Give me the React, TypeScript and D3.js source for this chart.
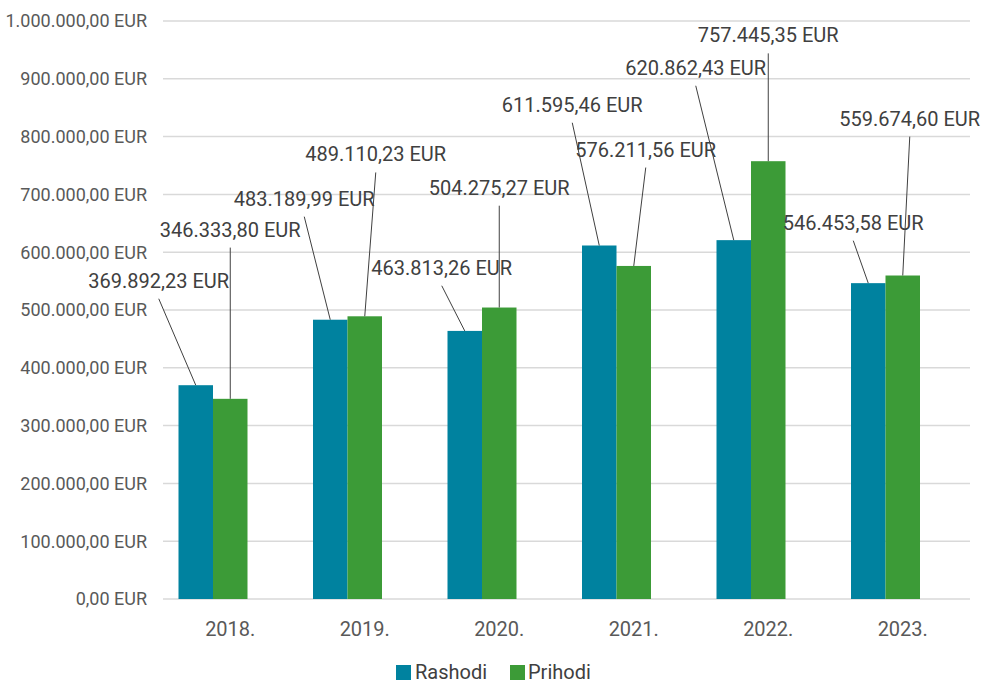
import React from "react";
import * as d3 from "d3";

const years = ["2018.", "2019.", "2020.", "2021.", "2022.", "2023."];
const seriesNames = ["Rashodi", "Prihodi"];
const rashodi = [369892.23, 483189.99, 463813.26, 611595.46, 620862.43, 546453.58];
const prihodi = [346333.8, 489110.23, 504275.27, 576211.56, 757445.35, 559674.6];
const yTicks = [0, 100000, 200000, 300000, 400000, 500000, 600000, 700000, 800000, 900000, 1000000];

// label placement (layout only): horizontal offset from bar centre (px) and level (data units)
const rashodiLabelDx = [-37, -26, -23, -27, -38, -15];
const rashodiLabelLevel = [538500, 680500, 561000, 843000, 907000, 639000];
const prihodiLabelDx = [0, 11, 0, 12, 0, 7];
const prihodiLabelLevel = [627000, 757000, 699500, 765500, 963000, 819000];

const colors = ["#00829F", "#3C9B37"];
const W = 981;
const H = 684;
const FONT = "Roboto, 'Noto Sans', sans-serif";

const locale = d3.formatLocale({ decimal: ",", thousands: ".", grouping: [3], currency: ["", " EUR"] });
const fmt = (v: number) => locale.format(",.2f")(v) + " EUR";

export default function App() {
  const x0 = d3.scaleBand<string>().domain(years).range([163, 970]).paddingInner(0.2305).paddingOuter(0.11525);
  const x1 = d3.scaleBand<string>().domain([...seriesNames, "_"]).range([0, x0.bandwidth()]);
  const y = d3.scaleLinear().domain([0, 1000000]).range([599, 21]);

  const series = [
    { name: seriesNames[0], values: rashodi, dx: rashodiLabelDx, lvl: rashodiLabelLevel, color: colors[0] },
    { name: seriesNames[1], values: prihodi, dx: prihodiLabelDx, lvl: prihodiLabelLevel, color: colors[1] },
  ];

  return (
    <svg width={W} height={H} style={{ position: "absolute", left: 0, top: 0, background: "#fff" }} fontFamily={FONT}>
      <rect x={0} y={0} width={W} height={H} fill="#fff" />
      {yTicks.map((t) => (
        <g key={t}>
          <line x1={163} x2={970} y1={y(t)} y2={y(t)} stroke="#d9d9d9" strokeWidth={1.5} />
          <text x={147} y={y(t)} dy="0.35em" textAnchor="end" fontSize={18} fill="#595959">
            {fmt(t)}
          </text>
        </g>
      ))}
      {series.map((s) =>
        years.map((yr, i) => {
          const bx = (x0(yr) as number) + (x1(s.name) as number);
          return (
            <rect key={s.name + yr} x={bx} y={y(s.values[i])} width={x1.bandwidth()} height={y(0) - y(s.values[i])} fill={s.color} />
          );
        })
      )}
      {series.map((s) =>
        years.map((yr, i) => {
          const cx = (x0(yr) as number) + (x1(s.name) as number) + x1.bandwidth() / 2;
          const lx = cx + s.dx[i];
          const ly = y(s.lvl[i]);
          return (
            <g key={"l" + s.name + yr}>
              <line x1={lx} y1={ly + 11} x2={cx} y2={y(s.values[i])} stroke="#404040" strokeWidth={1} />
              <text x={lx} y={ly} textAnchor="middle" fontSize={20} fill="#404040">
                {fmt(s.values[i])}
              </text>
            </g>
          );
        })
      )}
      {years.map((yr) => (
        <text key={"x" + yr} x={(x0(yr) as number) + x0.bandwidth() / 2} y={636} textAnchor="middle" fontSize={20} fill="#595959">
          {yr}
        </text>
      ))}
      <g>
        <rect x={396} y={665} width={15} height={15} fill={colors[0]} />
        <text x={415} y={679} fontSize={20} fill="#404040">{seriesNames[0]}</text>
        <rect x={510} y={665} width={15} height={15} fill={colors[1]} />
        <text x={528} y={679} fontSize={20} fill="#404040">{seriesNames[1]}</text>
      </g>
    </svg>
  );
}
